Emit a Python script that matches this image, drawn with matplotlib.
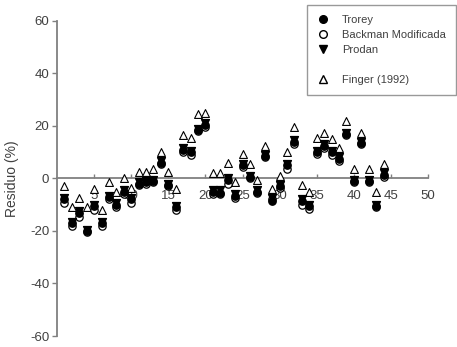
import matplotlib.pyplot as plt
import numpy as np
from matplotlib.lines import Line2D

plt.rcParams['font.family'] = ['Liberation Sans', 'DejaVu Sans']
plt.rcParams['axes.unicode_minus'] = False

# Residuals (%) per sample for each model
muestra = np.arange(1, 45)

trorey = [-8, -17, -13, -20, -10.5, -17, -7, -10, -5, -8,
          -2, -1.5, -1, 6, -2.5, -11, 11, 10, 18.5, 20.5,
          -5, -5.5, -0.5, -6.5, 5, 0.5, -5, 8.5, -8.5, -3,
          5, 14, -8.5, -10.5, 10, 12.5, 10, 7.5, 17, -1,
          13.5, -1, -10.5, 1.5]

backman = [-9.5, -18, -14.5, -20.5, -12, -18, -8, -11, -6, -9.5,
           -2.5, -2, -1.5, 5.5, -3, -12, 10, 9, 18, 19.5,
           -6, -6, -2, -7.5, 4.5, 0, -5.5, 8, -8, -3.5,
           3.5, 13, -10, -11.5, 9.5, 11.5, 9, 6.5, 16.5, -1.5,
           13, -1.5, -11, 0.5]

prodan = [-7.5, -16.5, -12.5, -19.5, -10, -16.5, -6.5, -9.5, -4.5, -7.5,
          -1.5, -1, -0.5, 6.5, -2, -10.5, 11.5, 10.5, 19, 21,
          -4.5, -4.5, 0, -6, 5.5, 1, -4.5, 9, -7.5, -2.5,
          5.5, 14.5, -8, -10, 10.5, 13, 10.5, 8, 17.5, -0.5,
          14, -0.5, -10, 2]

finger = [-3, -11, -7.5, -11, -4, -12, -1.5, -5, 0, -3.5,
          2.5, 2.5, 3.5, 10, 2.5, -4, 16.5, 15.5, 24.5, 25,
          2, 2, 6, -1.5, 9.5, 5.5, -0.5, 12.5, -4, 1,
          10, 19.5, -2.5, -5, 15.5, 17.5, 15, 11.5, 22, 3.5,
          17.5, 3.5, -5, 5.5]

gris = '#808080'
texto = '#404040'

fig = plt.figure(figsize=(4.57, 3.47), dpi=100)
ax = fig.add_axes([0.1247, 0.0317, 0.812, 0.9078])

ax.scatter(muestra, finger, marker='^', s=32, facecolors='white', edgecolors='black', linewidths=0.8, zorder=3)
ax.scatter(muestra, backman, marker='o', s=28, facecolors='white', edgecolors='black', linewidths=0.9, zorder=4)
ax.scatter(muestra, trorey, marker='o', s=28, color='black', zorder=5)
ax.scatter(muestra, prodan, marker='v', s=32, color='black', zorder=6)

ax.set_xlim(0, 50)
ax.set_ylim(-60, 60)

# x axis runs through zero
ax.spines['bottom'].set_position(('data', 0))
ax.spines['top'].set_visible(False)
ax.spines['right'].set_visible(False)
for s in ('bottom', 'left'):
    ax.spines[s].set_color(gris)
    ax.spines[s].set_linewidth(1.3)

ax.set_xticks(np.arange(5, 55, 5))
ax.set_yticks(np.arange(-60, 61, 20))
ax.tick_params(axis='x', direction='in', length=3, width=1, color=gris, pad=8,
               labelsize=9.5, labelcolor=texto)
ax.tick_params(axis='y', direction='out', length=3.5, width=1, color=gris, pad=2,
               labelsize=9.5, labelcolor=texto)

ax.set_ylabel('Residuo (%)', fontsize=10, color=texto, labelpad=8)

# Legend with an empty row before Finger
h = [
    Line2D([], [], marker='o', ls='', color='black', markersize=5.5),
    Line2D([], [], marker='o', ls='', markerfacecolor='white', markeredgecolor='black', markersize=5.5),
    Line2D([], [], marker='v', ls='', color='black', markersize=6),
    Line2D([], [], ls='', marker=''),
    Line2D([], [], marker='^', ls='', markerfacecolor='white', markeredgecolor='black', markersize=6),
]
etiquetas = ['Trorey', 'Backman Modificada', 'Prodan', '', 'Finger (1992)']
leg = fig.legend(h, etiquetas, loc='upper right', bbox_to_anchor=(0.998, 0.986),
                 fontsize=8, frameon=True, fancybox=False, labelspacing=0.45,
                 handlelength=1.2, handletextpad=1.1, borderpad=0.9, borderaxespad=0)
leg.get_frame().set_edgecolor(gris)
leg.get_frame().set_linewidth(1)
for t in leg.get_texts():
    t.set_color(texto)

plt.savefig('out.png', dpi=100)
